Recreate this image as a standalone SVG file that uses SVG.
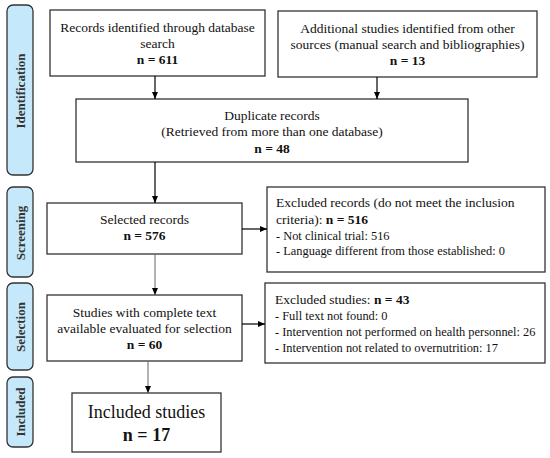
<svg xmlns="http://www.w3.org/2000/svg" width="550" height="458" viewBox="0 0 550 458">
<defs>
<marker id="ah" markerWidth="8" markerHeight="8" refX="7" refY="4" orient="auto" markerUnits="userSpaceOnUse">
<path d="M0,1 L7,4 L0,7 Z" fill="#000"/>
</marker>
<style>
.box{fill:#fff;stroke:#333;stroke-width:1.3}
.side{fill:#c5e9fa;stroke:#333;stroke-width:1.3}
.sl{font-family:"Liberation Serif",serif;font-size:13px;font-weight:bold;fill:#333;text-anchor:middle}
.t{font-family:"Liberation Serif",serif;font-size:13.5px;fill:#111;text-anchor:middle}
.tl{font-family:"Liberation Serif",serif;font-size:13.5px;fill:#111}
.s{font-family:"Liberation Serif",serif;font-size:12.4px;fill:#111}
.b{font-weight:bold}
.c{stroke:#000;stroke-width:1.2;fill:none}
.cg{stroke:#666;stroke-width:1;fill:none}
</style>
</defs>
<g id="side-identification"><rect class="side" x="7" y="5" width="26" height="170" rx="6"/><text class="sl" transform="translate(24.5,91) rotate(-90)">Identification</text></g>
<g id="side-screening"><rect class="side" x="7" y="187" width="26" height="90" rx="6"/><text class="sl" transform="translate(24.5,233) rotate(-90)">Screening</text></g>
<g id="side-selection"><rect class="side" x="7" y="283" width="26" height="87" rx="6"/><text class="sl" transform="translate(24.5,327) rotate(-90)">Selection</text></g>
<g id="side-included"><rect class="side" x="7" y="377" width="26" height="70" rx="6"/><text class="sl" transform="translate(24.5,412) rotate(-90)">Included</text></g>

<g id="n-db"><rect class="box" x="50" y="10" width="215" height="66"/>
<text class="t" x="157.5" y="32">Records identified through database</text>
<text class="t" x="157.5" y="48">search</text>
<text class="t b" x="157.5" y="64">n = 611</text></g>

<g id="n-other"><rect class="box" x="278" y="11" width="259" height="66"/>
<text class="t" x="407.5" y="33">Additional studies identified from other</text>
<text class="t" x="407.5" y="49">sources (manual search and bibliographies)</text>
<text class="t b" x="407.5" y="65">n = 13</text></g>

<g id="n-dup"><rect class="box" x="76" y="99" width="392" height="63"/>
<text class="t" x="272" y="120">Duplicate records</text>
<text class="t" x="272" y="136">(Retrieved from more than one database)</text>
<text class="t b" x="272" y="153">n = 48</text></g>

<g id="n-sel"><rect class="box" x="47" y="203" width="195" height="51"/>
<text class="t" x="144.5" y="224">Selected records</text>
<text class="t b" x="144.5" y="240">n = 576</text></g>

<g id="n-excl1"><rect class="box" x="267" y="187" width="278" height="85"/>
<text class="tl" x="276" y="207">Excluded records (do not meet the inclusion</text>
<text class="tl" x="276" y="224">criteria): <tspan class="b">n = 516</tspan></text>
<text class="s" x="276" y="240">- Not clinical trial: 516</text>
<text class="s" x="276" y="255">- Language different from those established: 0</text></g>

<g id="n-full"><rect class="box" x="47" y="295" width="195" height="66"/>
<text class="t" x="144.5" y="317">Studies with complete text</text>
<text class="t" x="144.5" y="333">available evaluated for selection</text>
<text class="t b" x="144.5" y="349">n = 60</text></g>

<g id="n-excl2"><rect class="box" x="265" y="283" width="280" height="80"/>
<text class="tl" x="275" y="304">Excluded studies: <tspan class="b">n = 43</tspan></text>
<text class="s" x="275" y="320">- Full text not found: 0</text>
<text class="s" x="275" y="336">- Intervention not performed on health personnel: 26</text>
<text class="s" x="275" y="352">- Intervention not related to overnutrition: 17</text></g>

<g id="n-incl"><rect class="box" x="72" y="393" width="149" height="59"/>
<text class="t" x="146.5" y="418" style="font-size:18px">Included studies</text>
<text class="t b" x="146.5" y="441" style="font-size:18px">n = 17</text></g>

<g id="connectors">
<line class="c" x1="155" y1="76" x2="155" y2="99" marker-end="url(#ah)"/>
<line class="c" x1="377" y1="77" x2="377" y2="99" marker-end="url(#ah)"/>
<line class="c" x1="155" y1="162" x2="155" y2="203" marker-end="url(#ah)"/>
<line class="c" x1="242" y1="229" x2="267" y2="229" marker-end="url(#ah)"/>
<line class="cg" x1="155" y1="254" x2="155" y2="295" marker-end="url(#ah)"/>
<line class="c" x1="242" y1="324" x2="265" y2="324" marker-end="url(#ah)"/>
<line class="cg" x1="148" y1="361" x2="148" y2="393" marker-end="url(#ah)"/>
</g>
</svg>
